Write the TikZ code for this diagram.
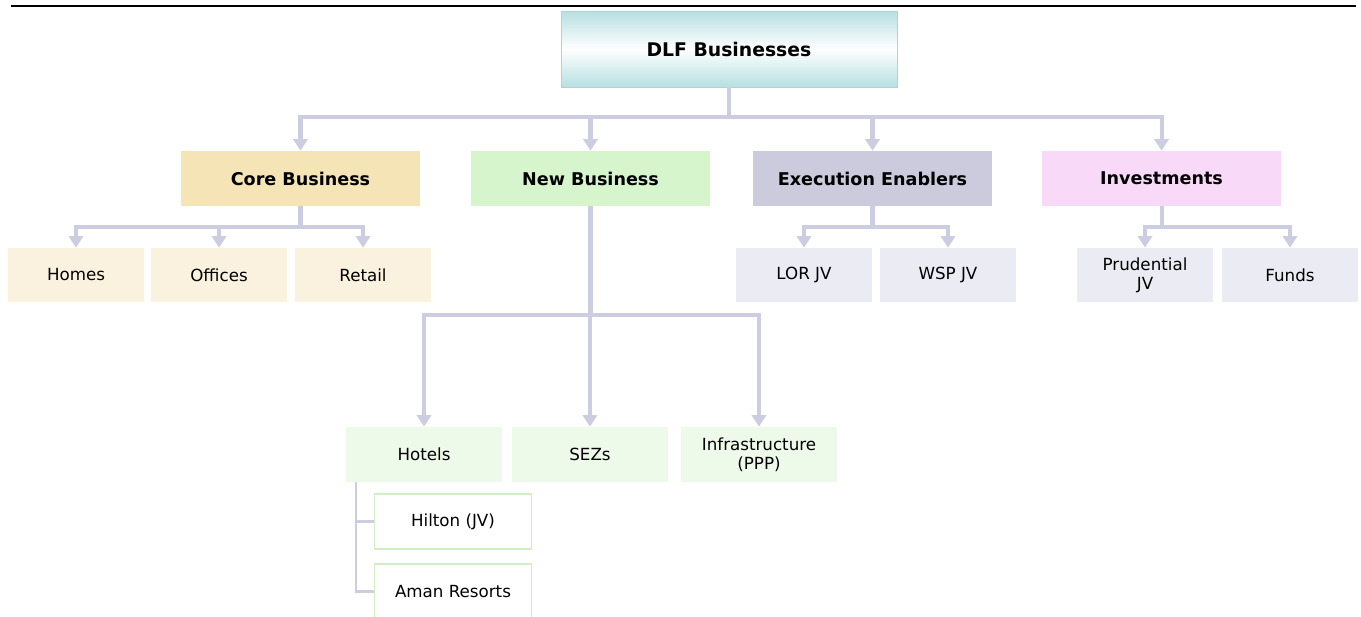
\documentclass[tikz,border=0pt]{standalone}
\usepackage{fontspec}
\setmainfont{DejaVu Sans}
\usetikzlibrary{arrows.meta}
\definecolor{linecol}{RGB}{205,205,225}
\definecolor{tealtop}{RGB}{183,223,225}
\definecolor{tealedge}{RGB}{170,214,218}
\definecolor{corecol}{RGB}{245,228,182}
\definecolor{coreleaf}{RGB}{250,242,222}
\definecolor{newcol}{RGB}{214,245,204}
\definecolor{newleaf}{RGB}{237,250,233}
\definecolor{newedge}{RGB}{208,240,196}
\definecolor{execcol}{RGB}{203,203,221}
\definecolor{execleaf}{RGB}{235,235,243}
\definecolor{invcol}{RGB}{248,218,248}
\begin{document}
\begin{tikzpicture}[x=0.02cm, y=-0.02cm,
    head/.style={minimum width=4.8cm, minimum height=1.1cm, inner sep=0pt,
      font=\fontsize{10}{12}\selectfont\bfseries},
    leaf/.style={minimum width=2.72cm, minimum height=1.08cm, inner sep=0pt,
      align=center, font=\fontsize{9.5}{11}\selectfont},
    wide leaf/.style={leaf, minimum width=3.14cm, minimum height=1.1cm},
    conn/.style={draw=linecol, line width=2.3pt,
      -{Triangle[width=8pt,length=6.5pt]}},
    sub/.style={draw=linecol, line width=1.3pt}]
  \useasboundingbox (0,0) rectangle (1361,616);
  \draw[line width=1.7pt] (11,6) -- (1356,6);

  \node[minimum width=6.72cm, minimum height=1.52cm, draw=tealedge,
    top color=tealtop, bottom color=tealtop, middle color=white,
    font=\fontsize{10.7}{13}\selectfont\bfseries] (dlf) at (729,49) {DLF Businesses};

  \node[head, fill=corecol] (core) at (300.5,178.5) {Core Business};
  \node[head, fill=newcol] (newbiz) at (590.5,178.5) {New Business};
  \node[head, fill=execcol] (exec) at (872.5,178.5) {Execution Enablers};
  \node[head, fill=invcol] (invest) at (1161.5,178.5) {Investments};

  \node[leaf, fill=coreleaf] (homes) at (76,275) {Homes};
  \node[leaf, fill=coreleaf] (offices) at (219,275) {Offices};
  \node[leaf, fill=coreleaf] (retail) at (363,275) {Retail};
  \node[leaf, fill=execleaf] (lor) at (804,275) {LOR JV};
  \node[leaf, fill=execleaf] (wsp) at (948,275) {WSP JV};
  \node[leaf, fill=execleaf] (prud) at (1145,275) {Prudential\\JV};
  \node[leaf, fill=execleaf] (funds) at (1290,275) {Funds};

  \node[wide leaf, fill=newleaf] (hotels) at (424,454.5) {Hotels};
  \node[wide leaf, fill=newleaf] (sez) at (590,454.5) {SEZs};
  \node[wide leaf, fill=newleaf] (infra) at (759,454.5) {Infrastructure\\(PPP)};
  \node[wide leaf, draw=newedge, line width=1pt, fill=white] (hilton) at (453,521.5) {Hilton (JV)};
  \node[wide leaf, draw=newedge, line width=1pt, fill=white] (aman) at (453,591.5) {Aman Resorts};

  \foreach \t in {core,newbiz,exec,invest}
    \draw[conn] (dlf.south) -- ++(0,30) -| (\t.north);
  \foreach \t in {homes,offices,retail}
    \draw[conn] (core.south) -- ++(0,21) -| (\t.north);
  \foreach \t in {lor,wsp}
    \draw[conn] (exec.south) -- ++(0,21) -| (\t.north);
  \foreach \t in {prud,funds}
    \draw[conn] (invest.south) -- ++(0,21) -| (\t.north);
  \foreach \t in {hotels,sez,infra}
    \draw[conn] (newbiz.south) -- ++(0,109) -| (\t.north);
  \foreach \t in {hilton,aman}
    \draw[sub] ([xshift=-1.36cm]hotels.south) |- (\t.west);
\end{tikzpicture}
\end{document}
